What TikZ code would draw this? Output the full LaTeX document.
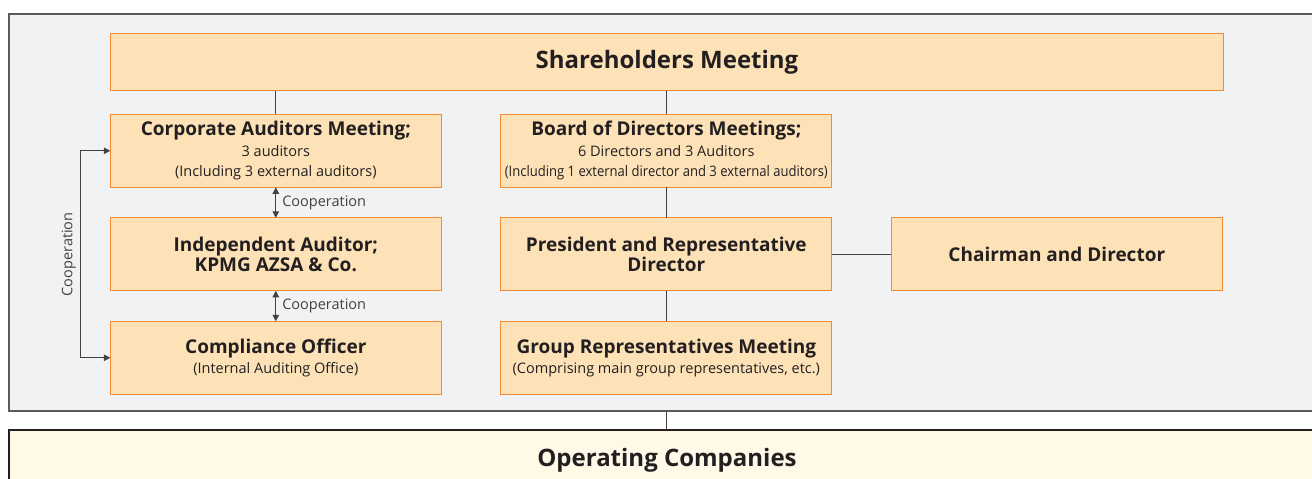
\documentclass[tikz,border=0pt]{standalone}
\usepackage{fontspec}
\usepackage{graphicx}
\setmainfont{Open Sans}
\usetikzlibrary{arrows.meta, positioning}

\definecolor{boxfill}{HTML}{FDE2B8}
\definecolor{boxline}{HTML}{F58A32}
\definecolor{panelfill}{HTML}{F1F2F4}
\definecolor{panelline}{HTML}{5A5A5A}
\definecolor{opsfill}{HTML}{FFF9E8}
\definecolor{ink}{HTML}{231F20}

\newcommand\boxtitle{\bfseries\fontsize{19}{21}\selectfont}
\newcommand\boxnote{\mdseries\fontsize{14.5}{19.5}\selectfont}

\begin{document}
\begin{tikzpicture}[
	x=1pt, y=-1pt,
	node distance=30.5pt and 59.5pt,
	box/.style = {draw=boxline, fill=boxfill, line width=1.2pt, text=ink,
		minimum width=331pt, minimum height=73pt, align=center,
		inner sep=2pt, outer sep=0pt, font=\fontsize{14.5}{20.5}\selectfont},
	headbox/.style = {box, minimum width=1113pt, minimum height=57pt,
		font=\bfseries\fontsize{24}{28}\selectfont},
	link/.style = {draw=ink!85, line width=1pt},
	coop/.style = {link, {Triangle[length=6.5pt,width=6.5pt]}-{Triangle[length=6.5pt,width=6.5pt]}},
	coopnote/.style = {text=ink!85, font=\fontsize{14.5}{16}\selectfont, inner sep=3pt}
	]
	\useasboundingbox (0,0) rectangle (1312,479);
	\clip (0,0) rectangle (1312,479);
%
	\node[draw=panelline, fill=panelfill, line width=1.3pt, outer sep=0pt,
		minimum width=1316pt, minimum height=397pt, anchor=north west] (panel) at (9,14) {};
	\node[draw=ink, fill=opsfill, line width=1.3pt, outer sep=0pt, text=ink,
		minimum width=1316pt, minimum height=60pt, anchor=north west,
		font=\bfseries\fontsize{24}{28}\selectfont] (ops) at (9,430) {Operating Companies};
%
	\node[headbox] (share) at (667,62.2) {Shareholders Meeting};
%
	\node[box] (corp) at (275.8,150.8)
		{\boxtitle Corporate Auditors Meeting;\\
		 \boxnote 3 auditors\\ \boxnote (Including 3 external auditors)};
	\node[box, below=of corp] (indep)
		{\boxtitle Independent Auditor;\\ \boxtitle KPMG AZSA \& Co.};
	\node[box, below=of indep] (comp)
		{\boxtitle Compliance Officer\\ \boxnote (Internal Auditing Office)};
%
	\node[box, right=of corp] (board)
		{\boxtitle Board of Directors Meetings;\\
		 \boxnote 6 Directors and 3 Auditors\\
		 \boxnote \scalebox{0.9}[1]{(Including 1 external director and 3 external auditors)}};
	\node[box, right=of indep] (pres)
		{\boxtitle President and Representative\\ \boxtitle Director};
	\node[box, right=of comp] (group)
		{\boxtitle Group Representatives Meeting\\
		 \boxnote (Comprising main group representatives, etc.)};
	\node[box, right=of pres] (chair) {\boxtitle Chairman and Director};
%
	\draw[link] (share.south -| corp) -- (corp.north);
	\draw[link] (share.south -| board) -- (board.north);
	\draw[link] (board) -- (pres) -- (group);
	\draw[link] (pres) -- (chair);
	\draw[link] (panel.south -| group) -- (ops.north -| group);
%
	\draw[coop] (corp) -- (indep) node[midway, right, coopnote, xshift=3pt] {Cooperation};
	\draw[coop] (indep) -- (comp) node[midway, right, coopnote, xshift=3pt] {Cooperation};
%
	\coordinate (bend) at ([xshift=-30pt] corp.west);
	\draw[coop] (corp.west) -- (bend) -- (bend |- comp.west)
		node[midway, rotate=90, anchor=south, coopnote, yshift=1pt] {Cooperation} -- (comp.west);
\end{tikzpicture}
\end{document}
